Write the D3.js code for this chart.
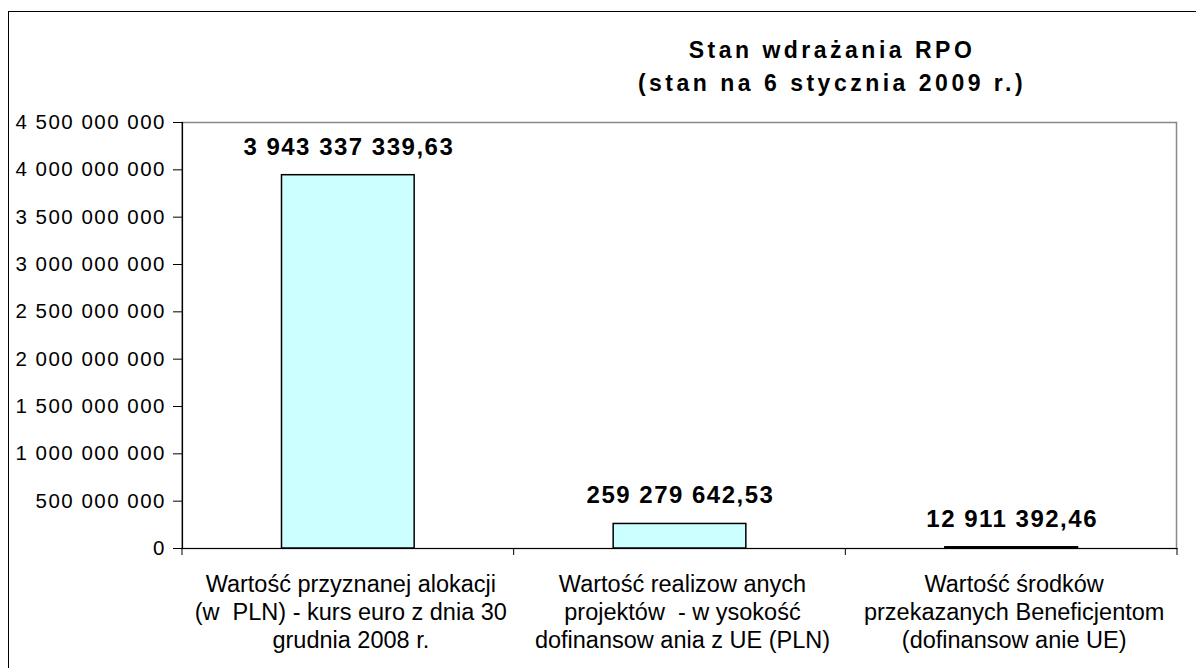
<!DOCTYPE html>
<html>
<head>
<meta charset="utf-8">
<script src="https://cdn.jsdelivr.net/npm/d3@7"></script>
<style>
  body { margin: 0; background: #fff; }
  svg { font-family: "Liberation Sans", Arial, sans-serif; }
  .cat text { white-space: pre; }
</style>
</head>
<body>
<div class="chart"></div>
<script>
// data
const categories = [
  ["Wartość przyznanej alokacji", "(w  PLN) - kurs euro z dnia 30", "grudnia 2008 r."],
  ["Wartość realizow anych", "projektów  - w ysokość", "dofinansow ania z UE (PLN)"],
  ["Wartość środków", "przekazanych Beneficjentom", "(dofinansow anie UE)"]
];
const values = [3943337339.63, 259279642.53, 12911392.46];
const yTicks = [0, 500000000, 1000000000, 1500000000, 2000000000, 2500000000, 3000000000, 3500000000, 4000000000, 4500000000];
const titleLines = ["Stan wdrażania RPO", "(stan na 6 stycznia 2009 r.)"];

// polish number format: space for thousands, comma for decimals
const pl = d3.formatLocale({ decimal: ",", thousands: " ", grouping: [3], currency: ["", ""] });
const fmtTick = pl.format(",d");
const fmtVal = pl.format(",.2f");

const W = 1196, H = 668;
const plot = { left: 182, top: 122, right: 1177, bottom: 548 };

const svg = d3.select("div.chart").append("svg")
  .attr("width", W)
  .attr("height", H);

// outer chart frame
svg.append("rect")
  .attr("x", 8.5).attr("y", 11.5)
  .attr("width", W + 10).attr("height", H + 10)
  .attr("fill", "#fff").attr("stroke", "#000").attr("stroke-width", 1);

const x = d3.scaleBand()
  .domain(d3.range(values.length))
  .range([plot.left, plot.right]);

const y = d3.scaleLinear()
  .domain([0, 4500000000])
  .range([plot.bottom, plot.top]);

// plot area border (grey)
svg.append("rect")
  .attr("x", plot.left).attr("y", plot.top + 0.5)
  .attr("width", plot.right - plot.left - 0.5).attr("height", plot.bottom - plot.top)
  .attr("fill", "none").attr("stroke", "#888").attr("stroke-width", 1.5);

// bars, 40% of band width
const barW = x.bandwidth() * 0.4;
svg.append("g").selectAll("rect")
  .data(values)
  .join("rect")
  .attr("x", (d, i) => x(i) + (x.bandwidth() - barW) / 2)
  .attr("y", d => y(d))
  .attr("width", barW)
  .attr("height", d => y(0) - y(d))
  .attr("fill", "#ccffff")
  .attr("stroke", "#000")
  .attr("stroke-width", 1.5);

// value labels
svg.append("g").selectAll("text")
  .data(values)
  .join("text")
  .attr("x", (d, i) => x(i) + x.bandwidth() / 2 + 1)
  .attr("y", d => y(d) - 20)
  .attr("text-anchor", "middle")
  .attr("font-size", 24)
  .attr("font-weight", "bold")
  .attr("letter-spacing", 1.5)
  .text(d => fmtVal(d));

// y axis
const yAxis = svg.append("g")
  .attr("transform", `translate(${plot.left},0)`)
  .call(d3.axisLeft(y).tickValues(yTicks).tickFormat(fmtTick).tickSize(9).tickPadding(7));
yAxis.select(".domain").attr("stroke", "#000").attr("stroke-width", 1.2);
yAxis.selectAll("text")
  .attr("font-size", 20.5)
  .attr("letter-spacing", 1.5)
  .attr("font-family", "Liberation Sans, Arial, sans-serif")
  .attr("fill", "#000");

// x axis
const xAxis = svg.append("g")
  .attr("transform", `translate(0,${plot.bottom})`)
  .call(d3.axisBottom(x).tickFormat("").tickSize(0));
xAxis.select(".domain").attr("stroke", "#000").attr("stroke-width", 1.2);
// category separator ticks
xAxis.selectAll(".sep")
  .data(d3.range(values.length + 1))
  .join("line")
  .attr("class", "sep")
  .attr("x1", i => i < values.length ? x(i) : plot.right)
  .attr("x2", i => i < values.length ? x(i) : plot.right)
  .attr("y1", 0).attr("y2", 7)
  .attr("stroke", "#000");

// category labels
const cat = svg.append("g").attr("class", "cat").selectAll("text")
  .data(categories)
  .join("text")
  .attr("text-anchor", "middle")
  .attr("font-size", 23.5)
  .attr("fill", "#000");
cat.selectAll("tspan")
  .data((d, i) => d.map(line => ({ line, i })))
  .join("tspan")
  .attr("x", d => x(d.i) + x.bandwidth() / 2 + 3)
  .attr("y", (d, j) => 592 + j * 28)
  .text(d => d.line);

// title
svg.append("g").selectAll("text")
  .data(titleLines)
  .join("text")
  .attr("x", 832)
  .attr("y", (d, i) => 58 + i * 33)
  .attr("text-anchor", "middle")
  .attr("font-size", 23)
  .attr("font-weight", "bold")
  .attr("letter-spacing", 3.5)
  .text(d => d);
</script>
</body>
</html>
